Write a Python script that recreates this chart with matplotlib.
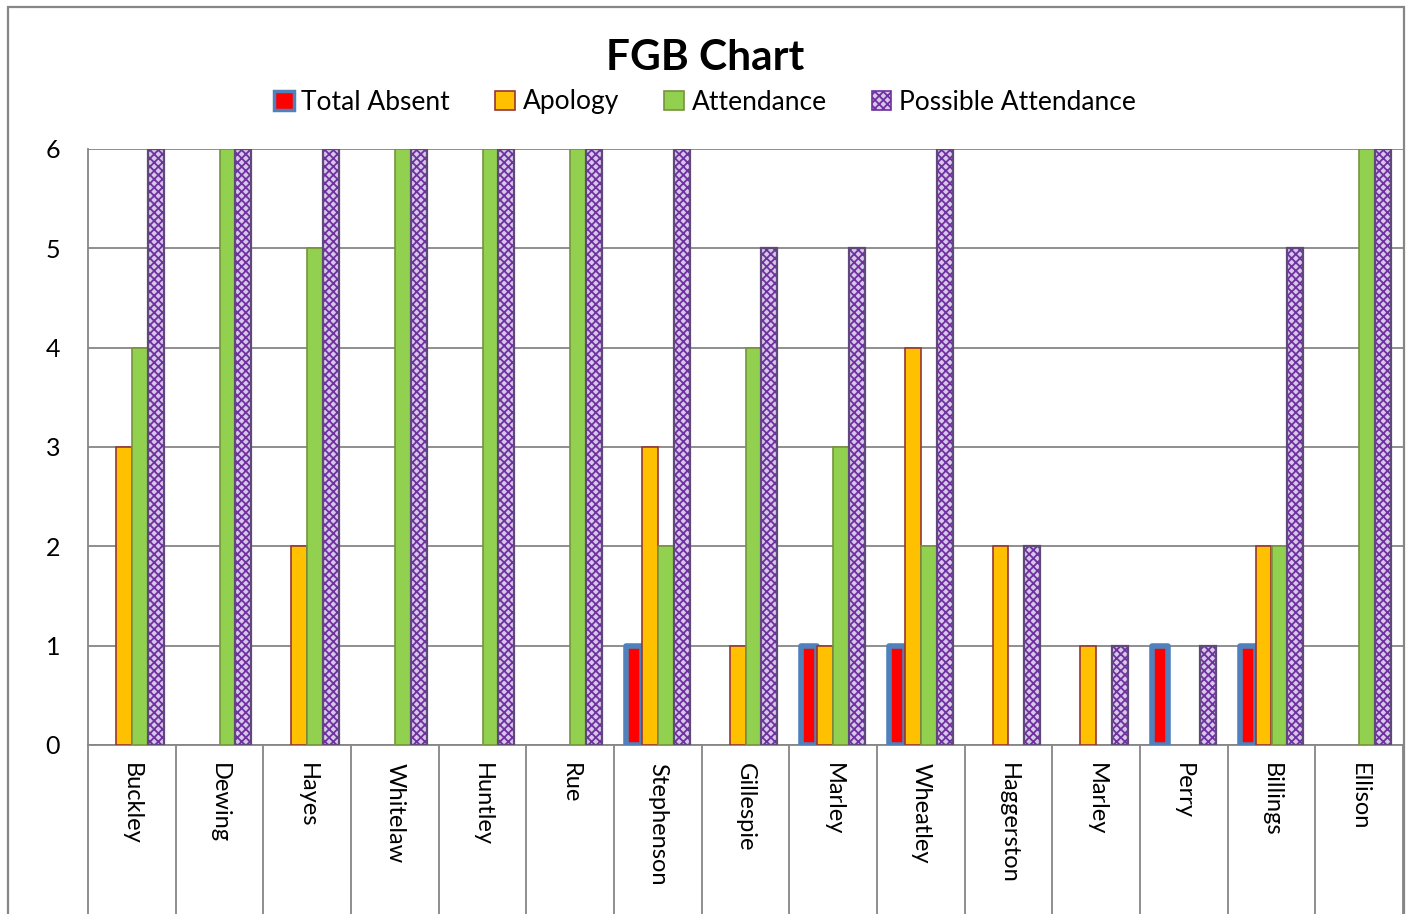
import numpy as np
import matplotlib
matplotlib.use("Agg")
import matplotlib.pyplot as plt
from matplotlib.patches import Rectangle, Patch

plt.rcParams['font.family'] = ['Lato', 'DejaVu Sans']
plt.rcParams['hatch.linewidth'] = 1.3

# Datos
nombres = ["Buckley", "Dewing", "Hayes", "Whitelaw", "Huntley", "Rue", "Stephenson",
           "Gillespie", "Marley", "Wheatley", "Haggerston", "Marley", "Perry",
           "Billings", "Ellison"]
total_absent = [0, 0, 0, 0, 0, 0, 1, 0, 1, 1, 0, 0, 1, 1, 0]
apology = [3, 0, 2, 0, 0, 0, 3, 1, 1, 4, 2, 1, 0, 2, 0]
attendance = [4, 6, 5, 6, 6, 6, 2, 4, 3, 2, 0, 0, 0, 2, 6]
possible = [6, 6, 6, 6, 6, 6, 6, 5, 5, 6, 2, 1, 1, 5, 6]

W, H = 1410, 914
fig = plt.figure(figsize=(W / 100, H / 100), dpi=100)
ax = fig.add_axes([88 / W, 1 - 745 / H, (1403 - 88) / W, (745 - 149) / H])

gris = '#868686'
x = np.arange(len(nombres))
w = 0.1825


def grosor(valores, lw):
    # sin borde para las barras de altura cero
    return [lw if v > 0 else 0 for v in valores]


ax.bar(x - 1.5 * w, total_absent, w, color='#FF0000', edgecolor='#4F81BD',
       linewidth=grosor(total_absent, 4.0), joinstyle='round', zorder=3)
ax.bar(x - 0.5 * w, apology, w, color='#FFC000', edgecolor='#953735',
       linewidth=grosor(apology, 1.2), zorder=3)
ax.bar(x + 0.5 * w, attendance, w, color='#92D050', edgecolor='#77933C',
       linewidth=grosor(attendance, 1.2), zorder=3)
ax.bar(x + 1.5 * w, possible, w, color='#D5C8E8', edgecolor='#7030A0',
       hatch='xxxx', linewidth=grosor(possible, 1.2), zorder=3)
# borde exterior de las barras moradas
ax.bar(x + 1.5 * w, possible, w, color='none', edgecolor='#5F497A',
       linewidth=grosor(possible, 1.6), zorder=4)

ax.set_xlim(-0.5, len(nombres) - 0.5)
ax.set_ylim(0, 6)
ax.set_yticks(range(7))
ax.grid(axis='y', color=gris, linewidth=1.3, zorder=0)

for s in ['top', 'right']:
    ax.spines[s].set_visible(False)
for s in ['left', 'bottom']:
    ax.spines[s].set_color(gris)
    ax.spines[s].set_linewidth(1.3)

ax.tick_params(axis='y', length=0, pad=20, labelsize=18)
ax.set_xticks(x)
ax.set_xticklabels(nombres, rotation=-90, fontsize=17)
ax.tick_params(axis='x', which='major', length=0, pad=13)
ax.set_xticks(np.arange(-0.5, len(nombres), 1), minor=True)
ax.tick_params(axis='x', which='minor', length=130, width=1.3, color=gris,
               direction='out')

# título y leyenda
fig.text(705 / W, 1 - 58 / H, 'FGB Chart', ha='center', va='center',
         fontsize=30.5, fontweight='bold')
handles = [
    Patch(facecolor='#FF0000', edgecolor='#4F81BD', linewidth=2.5,
          joinstyle='round'),
    Patch(facecolor='#FFC000', edgecolor='#953735', linewidth=1.2),
    Patch(facecolor='#92D050', edgecolor='#77933C', linewidth=1.2),
    Patch(facecolor='#D5C8E8', edgecolor='#7030A0', hatch='xxxx',
          linewidth=1.2),
]
labels = ['Total Absent', 'Apology', 'Attendance', 'Possible Attendance']
fig.legend(handles, labels, loc='center', ncol=4,
           bbox_to_anchor=(705 / W, 1 - 102 / H), frameon=False, fontsize=19,
           handlelength=0.75, handleheight=0.75, handletextpad=0.3,
           columnspacing=1.7)

# marco exterior
fig.patches.append(Rectangle((8 / W, -0.1), (1404 - 8) / W, 1.1 - 7 / H,
                             transform=fig.transFigure, fill=False,
                             edgecolor=gris, linewidth=1.6))

fig.savefig('out.png', dpi=100)
